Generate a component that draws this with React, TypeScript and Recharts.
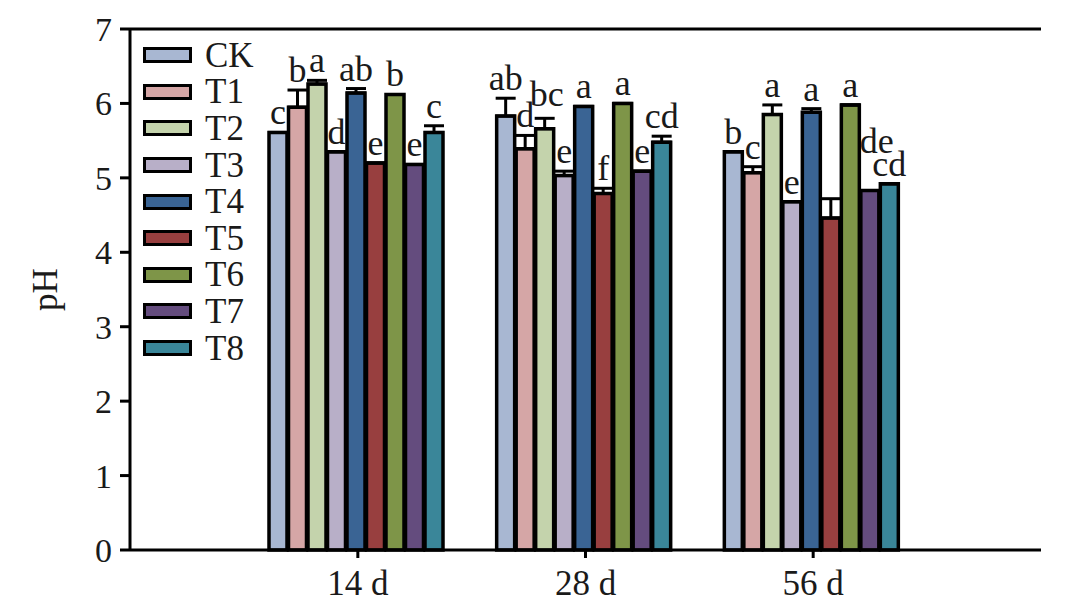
import React from 'react';
import { BarChart, Bar, XAxis, YAxis, ErrorBar, LabelList, Legend, ReferenceLine } from 'recharts';

const days = ['14 d', '28 d', '56 d'];
const seriesNames = ['CK', 'T1', 'T2', 'T3', 'T4', 'T5', 'T6', 'T7', 'T8'];
const seriesColors = ['#A8B7D2', '#D5A6A6', '#C4D3AC', '#B8AFC8', '#3A6494', '#983F3F', '#7E9548', '#644C7E', '#3A8699'];

// pH values per day (CK, T1..T8)
const values14 = [5.61, 5.95, 6.26, 5.35, 6.14, 5.2, 6.12, 5.18, 5.61];
const values28 = [5.83, 5.39, 5.66, 5.03, 5.96, 4.79, 6.0, 5.09, 5.48];
const values56 = [5.35, 5.07, 5.85, 4.68, 5.88, 4.46, 5.98, 4.83, 4.92];

// standard errors per day
const errors14 = [0, 0.23, 0.05, 0, 0.06, 0, 0, 0, 0.09];
const errors28 = [0.24, 0.18, 0.14, 0.06, 0, 0.07, 0, 0, 0.08];
const errors56 = [0, 0.08, 0.13, 0, 0.05, 0.26, 0, 0, 0];

// significance letters per day
const letters14 = ['c', 'b', 'a', 'd', 'ab', 'e', 'b', 'e', 'c'];
const letters28 = ['ab', 'd', 'bc', 'e', 'a', 'f', 'a', 'e', 'cd'];
const letters56 = ['b', 'c', 'a', 'e', 'a', '', 'a', 'de', 'cd'];

const yTicks = [0, 1, 2, 3, 4, 5, 6, 7];

const valuesByDay = [values14, values28, values56];
const errorsByDay = [errors14, errors28, errors56];
const lettersByDay = [letters14, letters28, letters56];

const data = days.map((day, d) => {
  const row: Record<string, any> = { day };
  seriesNames.forEach((name, i) => {
    row[name] = valuesByDay[d][i];
    row[name + '_err'] = [0, errorsByDay[d][i]];
    row[name + '_errv'] = errorsByDay[d][i];
    row[name + '_let'] = lettersByDay[d][i];
  });
  return row;
});

const FONT = '"Liberation Serif", "Times New Roman", serif';
const TEXT = '#1a1a1a';

// label nudges (dx, extra lift in px) to avoid overlapping letters
const labelNudge: Record<string, [number, number]> = {
  '56 d|T7': [7, 30],
  '28 d|T2': [2, 4],
};

const makeLetterLabel = (name: string) => (props: any) => {
  const { x, y, width, height, index, value } = props;
  const row = data[index];
  if (!row || !value) return null;
  const v = row[name];
  const err = row[name + '_errv'];
  const ppu = v ? Number(height) / v : 0;
  const top = Number(y) - err * ppu;
  const nudge = labelNudge[row.day + '|' + name] || [0, 0];
  return (
    <text
      x={Number(x) + Number(width) / 2 + nudge[0]}
      y={top - 8 - nudge[1]}
      textAnchor="middle"
      fontFamily={FONT}
      fontSize={36}
      fill={TEXT}
    >
      {value}
    </text>
  );
};

const renderLegend = () => (
  <div style={{ fontFamily: FONT, fontSize: 35, color: TEXT, lineHeight: 1 }}>
    {seriesNames.map((name, i) => (
      <div key={name} style={{ display: 'flex', alignItems: 'center', height: 36.6 }}>
        <div
          style={{
            width: 43,
            height: 10,
            background: seriesColors[i],
            border: '3.5px solid #000',
            marginRight: 13,
          }}
        />
        <span>{name}</span>
      </div>
    ))}
  </div>
);

export default function App() {
  return (
    <div style={{ position: 'absolute', left: 0, top: 0, width: 1087, height: 615, background: '#fff' }}>
      <BarChart
        width={1087}
        height={615}
        data={data}
        margin={{ top: 29, right: 46, bottom: 0, left: 0 }}
        barCategoryGap={25}
        barGap={1.5}
      >
        <XAxis
          dataKey="day"
          type="category"
          height={65}
          padding={{ left: 114, right: 114 }}
          axisLine={{ stroke: '#000', strokeWidth: 3 }}
          tickLine={{ stroke: '#000', strokeWidth: 3 }}
          tickSize={8}
          tickMargin={12}
          tick={{ fontFamily: FONT, fontSize: 35, fill: TEXT }}
        />
        <YAxis
          type="number"
          domain={[0, 7]}
          ticks={yTicks}
          width={130}
          interval={0}
          axisLine={{ stroke: '#000', strokeWidth: 3 }}
          tickLine={{ stroke: '#000', strokeWidth: 3 }}
          tickSize={10}
          tickMargin={8}
          tick={{ fontFamily: FONT, fontSize: 34, fill: TEXT }}
          label={{
            content: (p: any) => {
              const vb = p.viewBox || { x: 0, y: 29, width: 130, height: 521 };
              const cx = vb.x + 45;
              const cy = vb.y + vb.height / 2;
              return (
                <text
                  x={cx}
                  y={cy}
                  transform={`rotate(-90 ${cx} ${cy})`}
                  textAnchor="middle"
                  dominantBaseline="central"
                  fontFamily={FONT}
                  fontSize={35}
                  fill={TEXT}
                >
                  pH
                </text>
              );
            },
          }}
        />
        <YAxis
          yAxisId="r"
          orientation="right"
          type="number"
          domain={[0, 7]}
          width={0}
          tick={false}
          tickLine={false}
          axisLine={{ stroke: '#000', strokeWidth: 3 }}
        />
        <ReferenceLine y={7} stroke="#000" strokeWidth={3} ifOverflow="visible" />
        <Legend
          content={renderLegend}
          layout="vertical"
          verticalAlign="middle"
          align="center"
          wrapperStyle={{ position: 'absolute', left: 143, top: 37, width: 'auto' }}
        />
        {seriesNames.map((name, i) => (
          <Bar
            key={name}
            dataKey={name}
            name={name}
            fill={seriesColors[i]}
            stroke="#000"
            strokeWidth={3.5}
            isAnimationActive={false}
          >
            <ErrorBar dataKey={name + '_err'} width={10} strokeWidth={3} stroke="#000" direction="y" />
            <LabelList dataKey={name + '_let'} content={makeLetterLabel(name)} />
          </Bar>
        ))}
      </BarChart>
    </div>
  );
}
